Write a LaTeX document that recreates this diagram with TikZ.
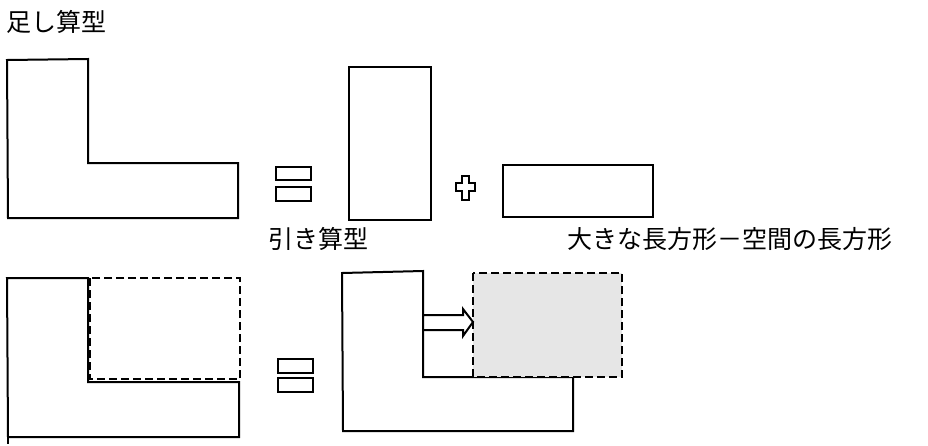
\documentclass[tikz,border=0pt]{standalone}
\usepackage{fontspec}
\newfontfamily\jpfont{Noto Sans CJK JP}
\definecolor{shade}{RGB}{230,230,230}
\begin{document}
\begin{tikzpicture}[x=1pt,y=-1pt,
  outline/.style={draw=black, line width=2pt, line join=miter},
  dashbox/.style={draw=black, line width=2pt, dash pattern=on 8pt off 4pt},
  jtext/.style={font=\jpfont\fontsize{25}{30}\selectfont, inner sep=0pt, anchor=west}]
\useasboundingbox (0,0) rectangle (928,445);

% labels
\node[jtext] (t1) at (6,22) {足し算型};
\node[jtext] (t2) at (268,239) {引き算型};
\node[jtext] (t3) at (567,239) {大きな長方形－空間の長方形};

% --- top row: addition ---
\draw[outline] (7,60) -- (88,59) -- (88,163) -- (238,163) -- (238,218) -- (8,218) -- cycle;
\draw[outline] (276,167) rectangle (311,180);
\draw[outline] (276,187) rectangle (311,201);
\draw[outline] (349,67) rectangle (431,220);
\draw[outline] (462,176) -- (469,176) -- (469,183) -- (475,183) -- (475,191) -- (469,191)
  -- (469,200) -- (462,200) -- (462,191) -- (456,191) -- (456,183) -- (462,183) -- cycle;
\draw[outline] (503,165) rectangle (653,217);

% --- bottom row: subtraction ---
\draw[outline] (7,278) -- (88,278) -- (88,382) -- (239,382) -- (239,437) -- (8,437) -- cycle;
\draw[line width=1.4pt] (8,437) -- (8,444);
\draw[dashbox] (90,278) rectangle (240,379);
\draw[outline] (278,359) rectangle (313,373);
\draw[outline] (278,378) rectangle (313,392);
\draw[outline] (342,273) -- (423,271) -- (423,377) -- (573,377) -- (573,431) -- (343,431) -- cycle;
\draw[dashbox, fill=shade] (473,273) rectangle (622,377);

% hollow block arrow from the L shape to the space rectangle
\coordinate (arrS) at (423,322);
\coordinate (arrT) at (473,322);
\draw[outline, fill=white] (arrS) ++(0,-7) -- ++(40,0) -- ++(0,-6) -- (arrT)
  -- ++(-10,14) -- ++(0,-6) -- ++(-40,0) -- cycle;
\end{tikzpicture}
\end{document}
